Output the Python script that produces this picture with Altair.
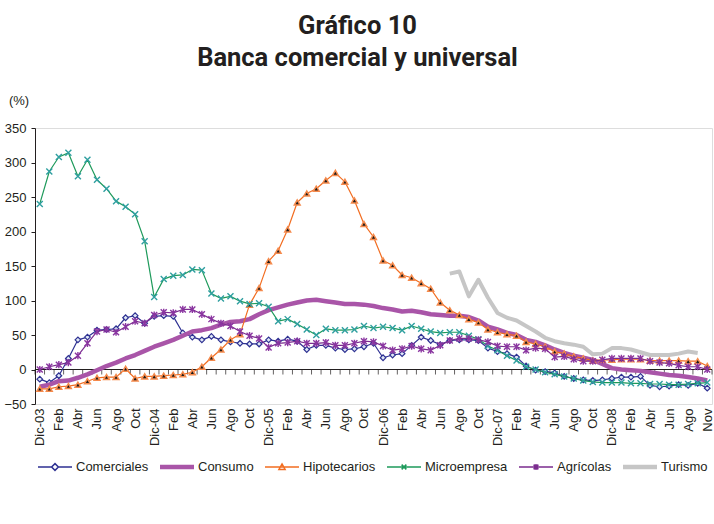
import altair as alt
import pandas as pd

series = ["Comerciales", "Consumo", "Hipotecarios", "Microempresa", "Agrícolas", "Turismo"]

etiquetas = ["Dic-03", "Feb", "Abr", "Jun", "Ago", "Oct",
             "Dic-04", "Feb", "Abr", "Jun", "Ago", "Oct",
             "Dic-05", "Feb", "Abr", "Jun", "Ago", "Oct",
             "Dic-06", "Feb", "Abr", "Jun", "Ago", "Oct",
             "Dic-07", "Feb", "Abr", "Jun", "Ago", "Oct",
             "Dic-08", "Feb", "Abr", "Jun", "Ago", "Nov"]

comerciales = [-14, -19, -9, 16, 43, 47, 57, 58, 59, 75, 78, 67, 77, 78, 77, 53, 47, 43, 48, 43,
               40, 38, 37, 37, 43, 41, 44, 41, 29, 35, 35, 31, 29, 30, 33, 38, 17, 21, 23, 35,
               47, 42, 36, 42, 43, 43, 42, 31, 26, 23, 18, 5, -1, -3, -5, -10, -13, -15, -16, -15,
               -13, -11, -11, -10, -23, -25, -24, -22, -23, -20, -27]
consumo = [-25, -22, -17, -16, -12, -7, -1, 5, 10, 16, 21, 27, 33, 38, 43, 49, 55, 57, 60, 65,
           69, 70, 73, 80, 86, 90, 94, 97, 100, 101, 99, 97, 95, 95, 94, 92, 89, 87, 84, 85,
           83, 80, 79, 78, 78, 76, 71, 62, 58, 53, 50, 43, 40, 35, 29, 24, 20, 17, 14, 8,
           2, 0, -1, -2, -4, -6, -8, -9, -11, -13, -16]
hipotecarios = [-28, -28, -25, -24, -22, -17, -12, -11, -11, 1, -13, -10, -10, -9, -8, -7, -4, 4, 17, 29,
                43, 51, 94, 118, 157, 172, 203, 242, 255, 262, 274, 285, 272, 245, 211, 192, 158, 151, 137, 133,
                125, 117, 97, 86, 79, 73, 68, 58, 54, 51, 49, 40, 37, 33, 26, 23, 19, 16, 13, 14,
                14, 15, 15, 15, 13, 13, 13, 13, 12, 12, 5]
microempresa = [240, 287, 308, 314, 280, 304, 275, 262, 244, 236, 225, 186, 105, 131, 136, 137, 145, 144, 110, 103,
                106, 99, 95, 96, 91, 70, 73, 66, 58, 50, 59, 57, 57, 58, 63, 60, 62, 60, 57, 63,
                59, 55, 53, 54, 54, 49, 44, 34, 28, 20, 13, 4, 0, -4, -7, -10, -13, -16, -18, -19,
                -19, -19, -20, -20, -21, -21, -22, -22, -21, -20, -19]
agricolas = [0, 4, 7, 10, 20, 38, 55, 58, 54, 62, 70, 67, 79, 83, 82, 87, 87, 80, 73, 67,
             63, 55, 49, 45, 32, 38, 39, 41, 38, 38, 39, 35, 35, 38, 41, 40, 34, 28, 30, 34,
             30, 28, 35, 42, 45, 45, 43, 40, 34, 33, 33, 28, 31, 30, 18, 19, 15, 12, 12, 14,
             16, 16, 16, 16, 12, 10, 9, 6, 4, 4, 0]
turismo = [None] * 43 + [139, 142, 106, 130, 104, 82, 75, 71, 63, 55, 46, 41, 38, 36, 33, 22,
                         23, 31, 31, 29, 25, 21, 21, 21, 23, 26, 24] + [None]

valores = [comerciales, consumo, hipotecarios, microempresa, agricolas, turismo]

rows = []
for nombre, serie in zip(series, valores):
    for i, v in enumerate(serie):
        if v is not None:
            rows.append({"i": i, "valor": v, "serie": nombre})
df = pd.DataFrame(rows)

n = len(comerciales)
limites = pd.DataFrame({"i": [k - 0.5 for k in range(n + 1)], "valor": [0] * (n + 1)})

colores = ["#2e3192", "#a955a8", "#f26d21", "#1e9a5b", "#7b2d8f", "#c6c6c6"]
anchos = [1.2, 4.5, 1.2, 1.2, 1.2, 4]

FONT = "Liberation Sans"
TXT = "#231f20"

label_js = "[" + ",".join("'" + e + "'" for e in etiquetas) + "][round(datum.value/2)]"

x_enc = alt.X("i:Q",
              scale=alt.Scale(domain=[-0.5, n - 0.5], nice=False, zero=False),
              axis=alt.Axis(values=list(range(0, n, 2)), labelExpr=label_js, labelAngle=270,
                            domain=False, ticks=False, tickSize=0, grid=False, labelPadding=4,
                            labelFont=FONT, labelFontSize=13, labelColor=TXT, title=None,
                            labelOverlap=False, labelBound=False, labelFlush=False))
y_enc = alt.Y("valor:Q",
              scale=alt.Scale(domain=[-50, 350], nice=False, zero=False),
              axis=alt.Axis(values=list(range(-50, 351, 50)), grid=False, domainColor=TXT,
                            tickColor=TXT, tickSize=4, labelPadding=5, labelFont=FONT,
                            labelFontSize=13, labelColor=TXT, title="(%)", titleAngle=0,
                            titleX=-16.5, titleY=-28, titleAlign="center", titleBaseline="middle",
                            titleFont=FONT, titleFontSize=13, titleFontWeight="normal",
                            titleColor=TXT))

base = alt.Chart(df)
layers = []

# zero line with monthly tick marks
layers.append(alt.Chart(limites).mark_rule(color=TXT, strokeWidth=1).encode(y=y_enc))
layers.append(alt.Chart(limites).mark_tick(orient="vertical", size=5, thickness=1, color=TXT,
                                           yOffset=2.5).encode(x=x_enc, y=y_enc))

for nombre, col, w in zip(series, colores, anchos):
    layers.append(base.transform_filter(alt.datum.serie == nombre)
                  .mark_line(color=col, strokeWidth=w, strokeJoin="round")
                  .encode(x=x_enc, y=y_enc))
    if nombre == "Comerciales":
        layers.append(base.transform_filter(alt.datum.serie == nombre)
                      .mark_point(shape="diamond", size=32, filled=True, fill="#dfe8f6",
                                  stroke=col, strokeWidth=1.2, opacity=1)
                      .encode(x=x_enc, y=y_enc))
    elif nombre == "Hipotecarios":
        layers.append(base.transform_filter(alt.datum.serie == nombre)
                      .mark_point(shape="triangle-up", size=34, filled=True, fill="#1a1a1a",
                                  stroke="#f58a4c", strokeWidth=1.5, opacity=1)
                      .encode(x=x_enc, y=y_enc))
    elif nombre == "Microempresa":
        layers.append(base.transform_filter(alt.datum.serie == nombre)
                      .mark_point(shape="M-1,-1L1,1M-1,1L1,-1", size=36, filled=False,
                                  stroke="#2f9fa0", strokeWidth=1.4, opacity=1)
                      .encode(x=x_enc, y=y_enc))
    elif nombre == "Agrícolas":
        layers.append(base.transform_filter(alt.datum.serie == nombre)
                      .mark_point(shape="M-1,-1L1,1M-1,1L1,-1M0,-1.2L0,1.2", size=36, filled=False,
                                  stroke="#8a35a0", strokeWidth=1.4, opacity=1)
                      .encode(x=x_enc, y=y_enc))

simbolos = [
    "M-1,0H-0.2M0.2,0H1M0,-0.2L0.2,0L0,0.2L-0.2,0Z",
    "M-1,-0.09H1M-1,-0.03H1M-1,0.03H1M-1,0.09H1",
    "M-1,0H1M0,-0.18L0.18,0.14L-0.18,0.14Z",
    "M-1,0H1M-0.14,-0.14L0.14,0.14M-0.14,0.14L0.14,-0.14",
    "M-1,0H1M-0.14,-0.14L0.14,0.14M-0.14,0.14L0.14,-0.14M0,-0.18L0,0.18",
    "M-1,-0.09H1M-1,-0.03H1M-1,0.03H1M-1,0.09H1",
]

leyenda = alt.Legend(orient="none", legendX=2, legendY=321, direction="horizontal", columns=6,
                     title=None, symbolSize=1156, symbolStrokeWidth=1.5, labelFont=FONT,
                     labelFontSize=13, labelColor=TXT, labelOffset=3, columnPadding=8,
                     padding=0, labelLimit=0)

layers.append(base.transform_filter("false")
              .mark_point(filled=False, opacity=1, strokeWidth=1.5)
              .encode(x=x_enc, y=y_enc,
                      color=alt.Color("serie:N", scale=alt.Scale(domain=series, range=colores),
                                      legend=leyenda),
                      shape=alt.Shape("serie:N", scale=alt.Scale(domain=series, range=simbolos),
                                      legend=leyenda)))

chart = alt.layer(*layers).properties(
    width=677, height=276,
    autosize=alt.AutoSizeParams(type="none"),
    padding={"left": 35, "top": 128, "right": 2, "bottom": 120},
    title=alt.TitleParams(text=["Gráfico 10", "Banca comercial y universal"],
                          font="Roboto", fontSize=25.5, fontWeight="bold", lineHeight=32,
                          anchor="middle", color=TXT, dx=-16, offset=23),
).configure_view(stroke=None).configure(background="white")

chart.save("out.html", embed_options={"renderer": "svg", "actions": False})
